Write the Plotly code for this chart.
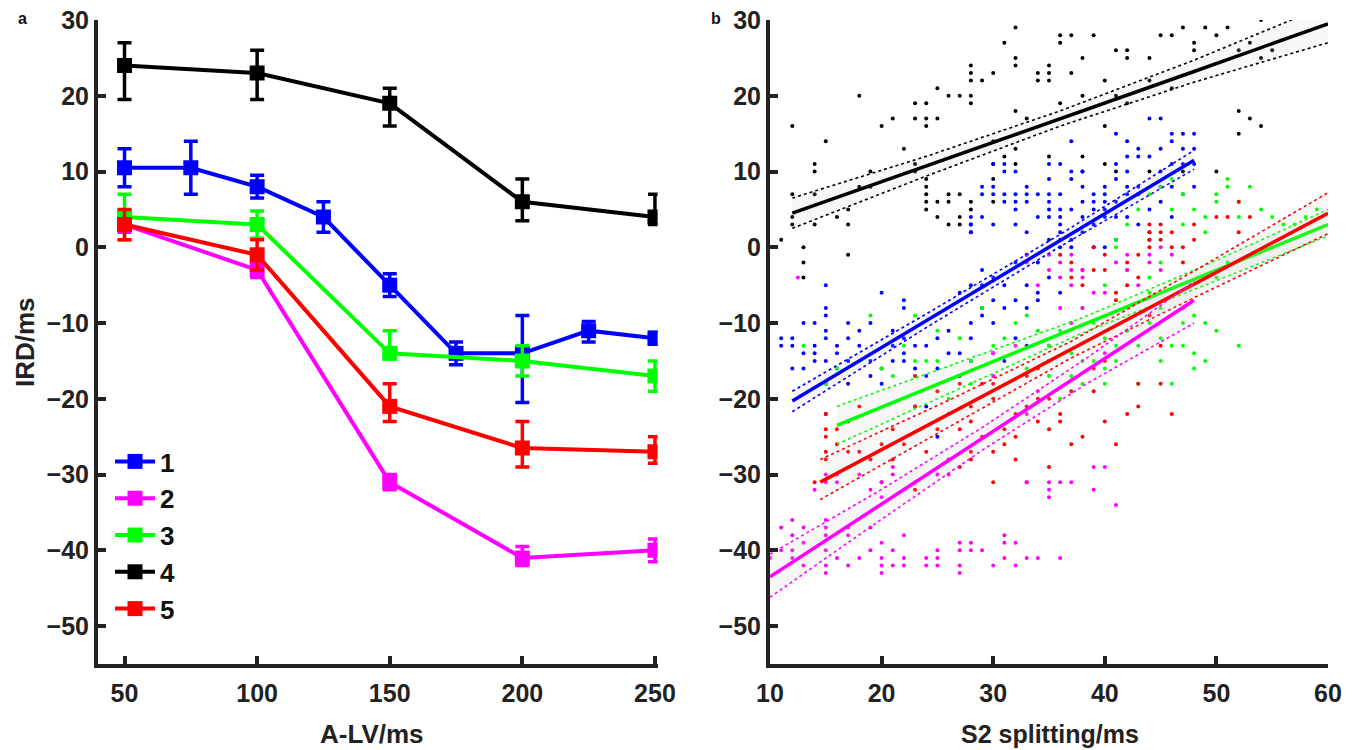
import plotly.graph_objects as go

# ---------------- Panel a data ----------------
series_names = ["1", "2", "3", "4", "5"]
series_colors = ["#0000FF", "#FF00FF", "#00FF00", "#000000", "#FF0000"]

s1_x = [50, 75, 100, 125, 150, 175, 200, 225, 250]
s1_y = [10.5, 10.5, 8, 4, -5, -14, -14, -11, -12]
s1_ep = [2.5, 3.5, 1.5, 2, 1.5, 1.5, 5, 1.2, 0.8]
s1_em = [2.5, 3.5, 1.5, 2, 1.5, 1.5, 6.5, 1.5, 0.8]

s2_x = [50, 100, 150, 200, 250]
s2_y = [3, -3, -31, -41, -40]
s2_ep = [1, 1, 1, 1.5, 1.5]
s2_em = [1, 1, 1, 1, 1.5]

s3_x = [50, 100, 150, 200, 250]
s3_y = [4, 3, -14, -15, -17]
s3_ep = [3, 1.8, 3, 2, 2]
s3_em = [3, 1.8, 0.5, 2, 2]

s4_x = [50, 100, 150, 200, 250]
s4_y = [24, 23, 19, 6, 4]
s4_ep = [3, 3, 2, 3, 3]
s4_em = [4.5, 3.5, 3, 2.5, 1]

s5_x = [50, 100, 150, 200, 250]
s5_y = [3, -1, -21, -26.5, -27]
s5_ep = [2, 2, 3, 3.5, 2]
s5_em = [2, 2, 2, 2.5, 1.5]

# ---------------- Panel b data ----------------
black_pts_x = [11, 12, 12, 12, 12, 13, 13, 13, 14, 14, 14, 14, 15, 16, 17, 17, 17, 18, 18, 19, 19, 20, 21, 22, 23, 23,
               23, 23, 24, 24, 24, 25, 25, 26, 27, 28, 28, 28, 28, 28, 29, 30, 31, 32, 32, 32, 32, 33, 34, 34, 35, 35,
               35, 36, 36, 36, 37, 37, 38, 38, 39, 40, 40, 41, 41, 42, 42, 42, 44, 44, 45, 46, 46, 47, 48, 48, 49, 50,
               51, 52, 52, 53, 53, 54, 54, 54, 55,
               24, 24, 24, 24, 24, 25, 25, 26, 26, 26, 27, 27, 27, 28, 28, 28, 28, 30, 30, 30, 31, 32, 38, 38, 40, 41,
               44, 47, 50, 52, 30, 32, 35]
black_pts_y = [1, 16, 7, 4, 3, -4, -2, 0, 10, 11, 3, 7, 14, 4, -1, 3, 5, 8, 20, 10, 8, 16, 17, 13, 19, 17,
               10, 11, 19, 17, 16, 17, 21, 20, 20, 20, 19, 22, 23, 24, 22, 23, 27, 29, 25, 24, 18, 17, 22, 23, 22, 23,
               24, 19, 27, 28, 23, 28, 25, 20, 28, 22, 16, 26, 20, 26, 25, 19, 25, 22, 28, 28, 21, 29, 27, 26, 29, 28,
               29, 26, 18, 17, 27, 30, 25, 16, 26,
               9, 8, 7, 6, 5, 6, 4, 7, 6, 3, 7, 4, 3, 6, 5, 3, 2, 6, 9, 11, 12, 11, 12, 10, 11, 10,
               10, 10, 10, 15, 14, 13, 12]

blue_pts_x = [11, 11, 12, 12, 12, 13, 13, 13, 14, 14, 14, 14, 15, 15, 15, 15, 15, 15, 15, 15, 16, 16, 16, 17, 17, 17,
              17, 18, 18, 19, 19, 19, 20, 20, 20, 21, 21, 21, 22, 22, 22, 22, 22, 23, 23, 23, 24, 24, 24, 25, 25, 25,
              26, 26, 27, 27, 27, 28, 28, 28, 28, 29, 29, 29, 29, 30, 30, 30, 30, 31, 31, 31, 32, 32, 32, 33, 33, 33,
              33, 34, 34, 34, 35, 35, 36,
              28, 28, 28, 29, 29, 29, 30, 30, 30, 30, 31, 31, 31, 31, 32, 32, 32, 32, 32, 33, 33, 33, 33, 34, 34, 35,
              35, 35, 35, 35, 35, 35, 36, 36, 36, 36, 36, 36, 36, 36, 37, 37, 37, 37, 37, 37, 38, 38, 38, 38, 38, 39,
              39, 39, 39, 39, 40, 40, 40, 40, 40, 40, 41, 41, 41, 41, 41, 41, 42, 42, 42, 42, 42, 42, 43, 43, 43, 43,
              43, 44, 44, 44, 44, 44, 45, 45, 45, 45, 45, 46, 46, 46, 46, 46, 47, 47, 47, 47, 48, 48, 48, 48]
blue_pts_y = [-12, -13, -12, -13, -16, -10, -14, -16, -10, -13, -14, -15, -5, -8, -9, -11, -12, -15, -18, -22, -13, -14,
              -16, -10, -12, -15, -18, -11, -13, -10, -15, -17, -6, -16, -18, -11, -13, -15, -7, -8, -12, -14, -15,
              -13, -16, -21, -13, -17, -21, -12, -16, -25, -11, -14, -6, -14, -17, -5, -10, -12, -15, -3, -5, -8, -9,
              -4, -7, -10, -14, -5, -8, -15, -2, -7, -12, -1, -5, -8, -13, -2, -6, -7, -4, -13, -6,
              2, 3, 4, 4, 7, 8, 3, 7, 8, 11, 6, 7, 10, 11, 3, 5, 6, 7, 10, 2, 6, 7, 8, 4, 7, 1,
              4, 5, 6, 7, 9, 11, 0, 1, 2, 3, 4, 5, 7, 11, 0, 1, 5, 9, 10, 14, 2, 4, 6, 8, 10, 0,
              3, 5, 6, 7, 0, 4, 5, 6, 7, 8, 1, 4, 6, 9, 11, 15, 4, 7, 8, 10, 12, 14, 3, 7, 8, 12,
              13, 1, 2, 5, 12, 17, 6, 8, 10, 13, 17, 4, 8, 11, 14, 15, 7, 11, 13, 15, 8, 11, 13, 15]

green_pts_x = [13, 15, 16, 17, 18, 19, 20, 21, 22, 23, 23, 24, 25, 25, 26, 27, 28, 28, 29, 30, 31, 32, 33, 33, 34, 35,
               35, 35, 36, 36, 37, 37, 37, 38, 38, 38, 39, 39, 40, 40, 40, 41, 41, 42, 43, 43, 44, 44, 45, 45, 45, 46,
               46, 47, 47, 48, 48, 48, 49, 49, 50, 52,
               41, 41, 42, 43, 44, 45, 46, 46, 47, 47, 48, 49, 49, 50, 50, 51, 51, 52, 52, 53, 54, 55, 56, 57, 58, 59,
               45, 44, 40, 42, 51, 50]
green_pts_y = [-13, -18, -16, -23, -15, -9, -16, -17, -13, -9, -15, -15, -15, -11, -20, -12, -15, -18, -8, -13, -12,
               -10, -9, -16, -11, -13, -15, -17, -11, -20, -14, -17, -19, -8, -15, -18, -10, -15, -12, -16, -18, -13,
               -15, -11, -13, -18, -6, -10, -8, -12, -15, -13, -18, -10, -13, -9, -14, -16, -10, -15, -11, -13,
               0, 1, 3, 5, 7, 8, 9, 5, 3, 7, 5, 2, 4, 6, 7, 8, 9, 4, 6, 8, 5, 4, 3, 3, 4, 5,
               -2, -4, -5, -3, -2, -4]

red_pts_x = [14, 15, 15, 15, 15, 15, 16, 16, 17, 17, 18, 18, 19, 20, 20, 21, 21, 22, 23, 23, 23, 24, 25, 25, 26, 26,
             27, 27, 27, 28, 28, 28, 28, 29, 29, 30, 30, 30, 30, 31, 31, 32, 32, 32, 33, 33, 33, 34, 34, 34, 35, 35,
             35, 36, 36, 37, 37, 38, 39, 39, 40, 40, 41, 42, 43, 43, 45, 46,
             37, 36, 37, 38, 38, 39, 39, 40, 40, 41, 41, 42, 42, 43, 43, 44, 44, 44, 44, 45, 45, 45, 46, 46, 47, 47,
             48, 48, 50, 51, 52, 53, 45, 44, 52, 47]
red_pts_y = [-31, -22, -24, -25, -27, -28, -24, -26, -23, -27, -21, -27, -28, -26, -31, -24, -28, -26, -17, -21, -32,
             -27, -19, -24, -22, -28, -18, -24, -29, -21, -23, -27, -28, -18, -25, -18, -20, -27, -31, -24, -26, -22,
             -25, -28, -17, -21, -31, -16, -20, -23, -20, -24, -29, -22, -23, -19, -26, -25, -16, -19, -15, -23, -26,
             -22, -18, -21, -18, -22,
             -2, -1, -4, -3, -5, 0, -3, -1, -3, -6, -7, -2, -5, -1, -4, 0, 1, 2, 3, 1, 2, 3, 0, 2, 0, -2,
             1, 3, 4, 4, 6, 4, -13, -9, 2, -8]

magenta_pts_x = [10, 11, 11, 12, 12, 12, 12, 13, 13, 13, 14, 15, 15, 15, 15, 15, 15, 15, 15, 16, 16, 16, 17, 17, 17,
                 18, 18, 19, 19, 19, 20, 20, 20, 20, 20, 20, 21, 21, 21, 21, 22, 22, 22, 23, 24, 24, 25, 25, 25, 25,
                 26, 27, 27, 27, 27, 28, 28, 29, 30, 31, 31, 31, 32, 32, 33, 33, 34, 35, 35, 35, 36, 36, 37, 39, 39,
                 40, 41,
                 12.5, 33, 33, 34, 35, 35, 36, 36, 37, 37, 37, 38, 38, 39, 40, 41, 42, 42, 43, 44, 44, 45, 45, 46,
                 38, 36, 30, 30, 35, 34, 33, 40, 37, 32]
magenta_pts_y = [-41, -37, -40, -36, -38, -40, -41, -37, -39, -42, -32, -30, -31, -36, -37, -38, -40, -42, -43, -30,
                 -31, -41, -37, -38, -42, -30, -41, -32, -37, -40, -31, -33, -39, -41, -42, -43, -29, -30, -40, -42,
                 -38, -41, -42, -31, -41, -42, -30, -40, -41, -42, -30, -39, -40, -42, -43, -39, -40, -40, -42, -38,
                 -39, -41, -39, -42, -31, -41, -41, -31, -32, -33, -31, -41, -31, -29, -32, -29, -34,
                 -4, -1, -2, -5, -1, -3, -4, -2, -1, -3, -5, -3, -4, -6, -6, -2, -1, -3, -5, -1, -2, 0, -3, -1,
                 -8, -8, -14, -17, -15, -19, -22, -14, -10, -13]

# regression lines with confidence limits
black_fit_x = [12, 24, 36, 48, 60]
black_fit_y = [4.5, 10.7, 17.0, 23.2, 29.5]
black_fit_hi = [6.5, 12.0, 18.0, 24.7, 32.0]
black_fit_lo = [2.5, 9.4, 16.0, 21.8, 27.0]

blue_fit_x = [12, 24, 36, 48]
blue_fit_y = [-20.3, -9.7, 0.9, 11.5]
blue_fit_hi = [-19.0, -8.8, 1.7, 12.8]
blue_fit_lo = [-21.7, -10.6, 0.1, 10.3]

green_fit_x = [16, 27, 38, 49, 60]
green_fit_y = [-23.5, -16.9, -10.3, -3.7, 3.0]
green_fit_hi = [-21.0, -15.2, -9.3, -2.4, 5.0]
green_fit_lo = [-26.0, -18.6, -11.3, -5.0, 1.5]

red_fit_x = [14.5, 26, 37, 48.5, 60]
red_fit_y = [-31.0, -22.0, -13.5, -4.5, 4.5]
red_fit_hi = [-28.0, -20.2, -12.4, -2.7, 7.2]
red_fit_lo = [-33.3, -23.8, -14.6, -6.3, 1.8]

magenta_fit_x = [10, 19.5, 29, 38.5, 48]
magenta_fit_y = [-43.5, -34.4, -25.3, -16.1, -7.0]
magenta_fit_hi = [-40.5, -32.4, -23.8, -14.5, -4.5]
magenta_fit_lo = [-46.2, -36.4, -26.8, -17.9, -10.0]

y_ticks = [30, 20, 10, 0, -10, -20, -30, -40, -50]
xa_ticks = [50, 100, 150, 200, 250]
xb_ticks = [10, 20, 30, 40, 50, 60]

FONT = "Liberation Sans, Arial, sans-serif"
AX = "#222222"
W, H = 1357, 750
OFF = 0  # body margin removed by post_script below


def px(X):
    return (X - OFF) / W


def py(Y):
    return 1 - (Y - OFF) / H


fig = go.Figure()

# ---- panel a ----
series = [
    (s1_x, s1_y, s1_ep, s1_em),
    (s2_x, s2_y, s2_ep, s2_em),
    (s3_x, s3_y, s3_ep, s3_em),
    (s4_x, s4_y, s4_ep, s4_em),
    (s5_x, s5_y, s5_ep, s5_em),
]
for name, col, (sx, sy, ep, em) in zip(series_names, series_colors, series):
    fig.add_trace(go.Scatter(
        x=sx, y=sy, name=name, mode="lines+markers",
        line=dict(color=col, width=4),
        marker=dict(symbol="square", size=15, color=col),
        error_y=dict(type="data", array=ep, arrayminus=em, symmetric=False,
                     color=col, thickness=3.5, width=7),
        xaxis="x", yaxis="y", showlegend=True,
    ))

# ---- panel b ----
groups = [
    ("#000000", black_pts_x, black_pts_y, black_fit_x, black_fit_y, black_fit_hi, black_fit_lo),
    ("#0000FF", blue_pts_x, blue_pts_y, blue_fit_x, blue_fit_y, blue_fit_hi, blue_fit_lo),
    ("#00FF00", green_pts_x, green_pts_y, green_fit_x, green_fit_y, green_fit_hi, green_fit_lo),
    ("#FF0000", red_pts_x, red_pts_y, red_fit_x, red_fit_y, red_fit_hi, red_fit_lo),
    ("#FF00FF", magenta_pts_x, magenta_pts_y, magenta_fit_x, magenta_fit_y, magenta_fit_hi, magenta_fit_lo),
]
for col, gx, gy, fx, fy, fh, fl in groups:
    fig.add_trace(go.Scatter(x=gx, y=gy, mode="markers",
                             marker=dict(size=4, color=col),
                             xaxis="x2", yaxis="y2", showlegend=False, hoverinfo="skip"))
for col, gx, gy, fx, fy, fh, fl in groups:
    fig.add_trace(go.Scatter(x=fx, y=fl, mode="lines", line=dict(color=col, width=1.6, dash="dot"),
                             xaxis="x2", yaxis="y2", showlegend=False, hoverinfo="skip"))
    fig.add_trace(go.Scatter(x=fx, y=fh, mode="lines", line=dict(color=col, width=1.6, dash="dot"),
                             fill="tonexty", fillcolor="rgba(200,200,200,0.15)",
                             xaxis="x2", yaxis="y2", showlegend=False, hoverinfo="skip"))
    fig.add_trace(go.Scatter(x=fx, y=fy, mode="lines", line=dict(color=col, width=3.5),
                             xaxis="x2", yaxis="y2", showlegend=False, hoverinfo="skip"))

axis_common = dict(
    showgrid=False, zeroline=False, showline=True, linecolor=AX, linewidth=4,
    ticks="inside", ticklen=8, tickwidth=4, tickcolor=AX, automargin=False,
    ticklabeloverflow="allow",
    tickfont=dict(family=FONT, size=25, color=AX, weight="bold"), mirror=False,
)

Y_DOM = [py(664), py(20)]
fig.update_layout(
    width=W, height=H,
    margin=dict(l=0, r=0, t=0, b=0, autoexpand=False),
    paper_bgcolor="white", plot_bgcolor="white",
    font=dict(family=FONT, color=AX),
    xaxis=dict(domain=[px(98), px(657.6)], range=[40, 251], tickvals=xa_ticks,
               anchor="y", ticklabelstandoff=4, **axis_common),
    yaxis=dict(domain=Y_DOM, range=[-55, 30], tickvals=y_ticks, anchor="x", **axis_common),
    xaxis2=dict(domain=[px(770), px(1328)], range=[10, 60], tickvals=xb_ticks,
                anchor="y2", ticklabelstandoff=4, **axis_common),
    yaxis2=dict(domain=Y_DOM, range=[-55, 30], tickvals=y_ticks, anchor="x2", **axis_common),
    legend=dict(x=px(110), y=py(438), xanchor="left", yanchor="top",
                traceorder="normal",
                bgcolor="rgba(0,0,0,0)", font=dict(family=FONT, size=26, color="#111", weight="bold"),
                tracegroupgap=0, itemwidth=40),
    annotations=[
        dict(text="<b>a</b>", x=px(22), y=py(18), xref="paper", yref="paper", xanchor="center",
             yanchor="middle", showarrow=False, font=dict(family=FONT, size=16, color="#111")),
        dict(text="<b>b</b>", x=px(716), y=py(18), xref="paper", yref="paper", xanchor="center",
             yanchor="middle", showarrow=False, font=dict(family=FONT, size=16, color="#111")),
        dict(text="<b>IRD/ms</b>", x=px(25), y=py(342), xref="paper", yref="paper", xanchor="center",
             yanchor="middle", showarrow=False, textangle=-90, font=dict(family=FONT, size=26, color=AX)),
        dict(text="<b>A-LV/ms</b>", x=px(372), y=py(734), xref="paper", yref="paper", xanchor="center",
             yanchor="middle", showarrow=False, font=dict(family=FONT, size=26, color=AX)),
        dict(text="<b>S2 splitting/ms</b>", x=px(1050), y=py(734), xref="paper", yref="paper",
             xanchor="center", yanchor="middle", showarrow=False,
             font=dict(family=FONT, size=25, color=AX)),
    ],
)

fig.write_html("out.html", config={"displayModeBar": False},
               post_script="document.body.style.margin='0';")
